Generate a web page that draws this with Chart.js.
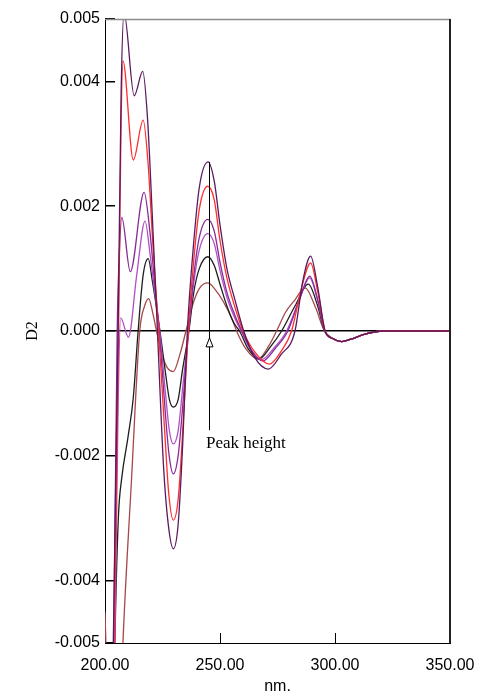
<!DOCTYPE html>
<html>
<head>
<meta charset="utf-8">
<script src="https://cdn.jsdelivr.net/npm/chart.js@4.4.0/dist/chart.umd.min.js"></script>
<style>
  html, body { margin: 0; padding: 0; background: #fff; }
  #wrap { width: 478px; height: 694px; }
</style>
</head>
<body>
<div id="wrap"><canvas id="grafico" width="478" height="694"></canvas></div>
<script>
// ticks of the axes
const xTicks = [200, 250, 300, 350];
const yTicks = [-0.005, -0.004, -0.002, 0, 0.002, 0.004, 0.005];

// second derivative spectra, [nm, D2]
const darkPurple = [
  [200, -0.016], [202, -0.0105], [203.6, -0.005], [205.7, 0], [207, 0.0038], [208.3, 0.0051],
  [212.7, 0.00377], [216.4, 0.00416], [218.5, 0.0034], [220.5, 0.0019], [222.8, 0],
  [225.5, -0.0022], [227.5, -0.0031], [229.7, -0.00349], [231.8, -0.0031], [233.8, -0.0018],
  [235.8, 0], [238.3, 0.0013], [241, 0.0023], [244.8, 0.00271], [247.5, 0.0024], [250, 0.0017],
  [253, 0.001], [256.5, 0.0005], [260.3, 0], [265, -0.00042], [271, -0.00061], [276.5, -0.00038],
  [282.6, 0], [286, 0.0008], [289.4, 0.0012], [292.5, 0.0007], [295.7, 0], [299, -0.00012],
  [302.9, -0.00017], [307, -0.00013], [313, -0.00005], [321, 0], [350, 0]
];
const red = [
  [200, -0.016], [202, -0.0105], [204, -0.005], [205.9, 0], [206.9, 0.0031], [207.8, 0.00433],
  [212.3, 0.00274], [216.6, 0.00338], [218.7, 0.0027], [220.8, 0.0014], [223.3, 0],
  [226.1, -0.0017], [227.7, -0.0026], [229.7, -0.00303], [231.8, -0.0027], [233.8, -0.0016],
  [236.2, 0], [238.5, 0.0011], [241, 0.00195], [244.7, 0.00232], [247.5, 0.0021], [250, 0.00145],
  [253, 0.00085], [256.5, 0.00038], [260, 0], [265, -0.00033], [271.5, -0.00053], [276.5, -0.00033],
  [281.1, 0], [285.5, 0.0007], [289.4, 0.00109], [292.5, 0.00063], [295.7, 0], [299, -0.00012],
  [302.9, -0.00017], [307, -0.00013], [313, -0.00005], [321, 0], [350, 0]
];
const purple = [
  [200, -0.016], [202, -0.0105], [203.8, -0.005], [205.3, 0], [206.3, 0.0013], [207.3, 0.00182],
  [211, 0.00095], [217, 0.00222], [219.5, 0.0016], [221.5, 0.0008], [223.6, 0],
  [226.2, -0.0013], [227.9, -0.002], [229.7, -0.00229], [231.8, -0.002], [233.8, -0.0012],
  [236.3, 0], [238.5, 0.00085], [241, 0.0015], [244.7, 0.00179], [247.5, 0.0016], [250, 0.0011],
  [253, 0.00062], [256.5, 0.00025], [259.5, 0], [263.5, -0.0003], [268.5, -0.00048], [274, -0.00028],
  [279.5, 0], [284.5, 0.0005], [289, 0.00088], [292.5, 0.0005], [295.6, 0], [299, -0.00012],
  [302.9, -0.00017], [307, -0.00013], [313, -0.00005], [321, 0], [350, 0]
];
const violet = [
  [200, -0.016], [202, -0.011], [204.3, -0.005], [205.7, -0.0012], [206.8, 0.00021],
  [210.2, -0.0001], [213.8, 0.0009], [217.4, 0.00176], [219.7, 0.0012], [221.7, 0.0006], [223.8, 0],
  [226.3, -0.001], [228, -0.0016], [229.7, -0.00181], [231.8, -0.0016], [233.8, -0.0009],
  [236.3, 0], [238.5, 0.00075], [241, 0.0013], [244.7, 0.00156], [247.5, 0.0014], [250, 0.00097],
  [253, 0.00054], [256.5, 0.0002], [259.2, 0], [263.3, -0.0003], [268, -0.00046], [273.5, -0.00027],
  [279, 0], [284.5, 0.0005], [289, 0.00085], [292.5, 0.00048], [295.6, 0], [299, -0.00012],
  [302.9, -0.00017], [307, -0.00013], [313, -0.00005], [321, 0], [350, 0]
];
const black = [
  [200, -0.016], [202, -0.0105], [204.3, -0.005], [205.8, -0.003], [207.3, -0.00235],
  [210, -0.0017], [212.3, -0.00107], [214.4, 0], [216.6, 0.0009], [218.8, 0.00116],
  [220.6, 0.0008], [222.3, 0.0004], [223.9, 0], [226.4, -0.0007], [228, -0.0011], [229.7, -0.00122],
  [231.8, -0.0011], [233.8, -0.0006], [236.5, 0], [238.5, 0.0006], [241, 0.001], [244.7, 0.00119],
  [247.5, 0.00105], [250, 0.00075], [253, 0.0004], [256, 0.00013], [258.5, 0], [262.5, -0.0003],
  [267, -0.00045], [272, -0.00025], [276.8, 0], [282.6, 0.0004], [288.4, 0.00075], [292.3, 0.00042],
  [295.5, 0], [299, -0.00012], [302.9, -0.00017], [307, -0.00013], [313, -0.00005], [321, 0], [350, 0]
];
const brown = [
  [200, -0.0045], [201, -0.0058], [203, -0.0085], [205.5, -0.0075], [207.8, -0.005],
  [211.5, -0.0024], [215.1, 0], [217.2, 0.0004], [219, 0.00052], [220.7, 0.0003], [222.4, 0],
  [225, -0.0004], [227.3, -0.0006], [229.7, -0.00065], [232.6, -0.00037], [235.2, 0],
  [238.4, 0.00045], [241, 0.00068], [244.7, 0.00077], [248, 0.00066], [251.3, 0.00048],
  [255.6, 0.00016], [257.2, 0], [261.5, -0.0003], [266.5, -0.00045], [271, -0.00025], [274.6, 0],
  [278.5, 0.0003], [282.6, 0.0005], [287, 0.00069], [291.5, 0.00038], [295.4, 0], [299, -0.00012],
  [302.9, -0.00017], [307, -0.00013], [313, -0.00005], [321, 0], [350, 0]
];

// arrow "Peak height"
const peakNm = 245;
const peakTop = 0.00271;
const peakBottom = -0.00159;
const arrowTip = -0.00011;
const peakText = "Peak height";
const peakTextNm = 243.9;
const peakTextY = -0.0018;

function toPoints(list) {
  return list.map(p => ({ x: p[0], y: p[1] }));
}

function serie(label, list, color) {
  return {
    label: label,
    data: toPoints(list),
    borderColor: color,
    borderWidth: 1.3,
    pointRadius: 0,
    fill: false,
    cubicInterpolationMode: "monotone",
    capBezierPoints: false
  };
}

const framePlugin = {
  id: "frame",
  afterDatasetsDraw(chart) {
    const { ctx, chartArea: a, scales } = chart;
    ctx.save();
    // top and right border
    ctx.strokeStyle = "#8c8c8c";
    ctx.lineWidth = 1.5;
    ctx.beginPath();
    ctx.moveTo(a.left, a.top + 0.5);
    ctx.lineTo(a.right, a.top + 0.5);
    ctx.stroke();
    ctx.strokeStyle = "#222";
    ctx.lineWidth = 2;
    ctx.beginPath();
    ctx.moveTo(a.right, a.top);
    ctx.lineTo(a.right, a.bottom);
    ctx.stroke();

    // peak height marker
    const x = Math.round(scales.x.getPixelForValue(peakNm)) + 0.5;
    const y1 = scales.y.getPixelForValue(peakTop);
    const y2 = scales.y.getPixelForValue(peakBottom);
    const tip = scales.y.getPixelForValue(arrowTip);
    ctx.strokeStyle = "#000";
    ctx.lineWidth = 1;
    ctx.beginPath();
    ctx.moveTo(x, y1);
    ctx.lineTo(x, y2);
    ctx.stroke();
    ctx.fillStyle = "#fff";
    ctx.beginPath();
    ctx.moveTo(x, tip);
    ctx.lineTo(x - 3.5, tip + 9);
    ctx.lineTo(x + 3.5, tip + 9);
    ctx.closePath();
    ctx.fill();
    ctx.stroke();
    ctx.fillStyle = "#000";
    ctx.font = '17px "Liberation Serif", "Times New Roman", serif';
    ctx.textAlign = "left";
    ctx.textBaseline = "middle";
    ctx.fillText(peakText, scales.x.getPixelForValue(peakTextNm), scales.y.getPixelForValue(peakTextY));
    ctx.restore();
  }
};

const tickFont = { family: '"Liberation Sans", Arial, sans-serif', size: 16 };

new Chart(document.getElementById("grafico").getContext("2d"), {
  type: "line",
  data: {
    datasets: [
      serie("1", darkPurple, "#5a1a5e"),
      serie("2", red, "#ff2e2e"),
      serie("3", purple, "#862a96"),
      serie("4", violet, "#b050c4"),
      serie("5", black, "#1e1e1e"),
      serie("6", brown, "#a5484a")
    ]
  },
  options: {
    responsive: false,
    devicePixelRatio: 1,
    animation: false,
    layout: { padding: { top: 19, right: 28, left: 0, bottom: 0 } },
    plugins: { legend: { display: false }, tooltip: { enabled: false } },
    scales: {
      x: {
        type: "linear",
        min: 200,
        max: 350,
        afterBuildTicks: s => { s.ticks = xTicks.map(v => ({ value: v })); },
        afterFit: s => {
          s.height = 51;
          s.paddingLeft = 0;
          s.paddingRight = 0;
        },
        ticks: {
          autoSkip: false,
          maxRotation: 0,
          padding: 23,
          color: "#000",
          font: tickFont,
          callback: v => Number(v).toFixed(2)
        },
        grid: { drawOnChartArea: false, tickLength: -10, tickColor: "#000" },
        border: { color: "#000", width: 1 },
        title: {
          display: true,
          text: "nm.",
          color: "#000",
          font: { family: '"Liberation Sans", Arial, sans-serif', size: 16, lineHeight: 0.9 },
          padding: 0
        }
      },
      y: {
        min: -0.005,
        max: 0.005,
        afterBuildTicks: s => { s.ticks = yTicks.map(v => ({ value: v })); },
        afterFit: s => {
          s.width = 105;
          s.paddingTop = 0;
          s.paddingBottom = 0;
        },
        ticks: {
          autoSkip: false,
          padding: 15,
          color: "#000",
          font: tickFont,
          callback: v => Number(v).toFixed(3)
        },
        grid: {
          drawOnChartArea: true,
          color: c => (c.tick && c.tick.value === 0 ? "#000" : "rgba(0,0,0,0)"),
          tickLength: -10,
          tickColor: "#000",
          lineWidth: 1.5
        },
        border: { color: "#000", width: 1 },
        title: {
          display: true,
          text: "D2",
          color: "#000",
          font: { family: '"Liberation Serif", "Times New Roman", serif', size: 16 },
          padding: { top: 23, bottom: 0 }
        }
      }
    }
  },
  plugins: [framePlugin]
});
</script>
</body>
</html>
